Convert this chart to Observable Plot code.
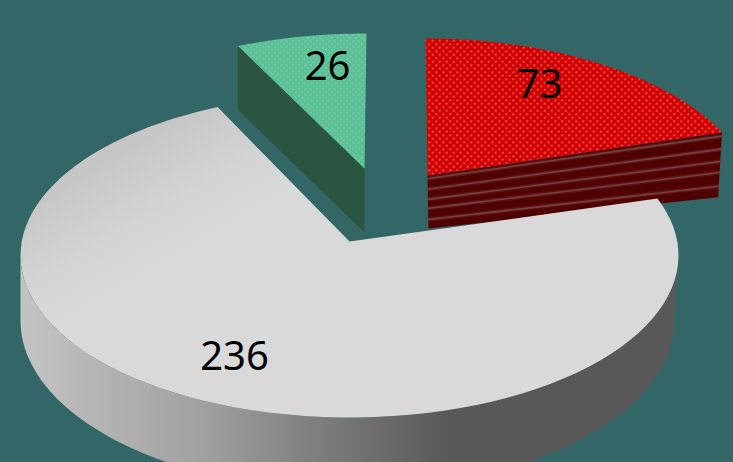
<!DOCTYPE html>
<html>
<head>
<meta charset="utf-8">
<script src="https://cdn.jsdelivr.net/npm/d3@7"></script>
<script src="https://cdn.jsdelivr.net/npm/@observablehq/plot@0.6"></script>
<style>
  html, body { margin: 0; padding: 0; background: #336666; }
</style>
</head>
<body>
<div id="chart"></div>
<script>
// Slice values, clockwise from twelve o'clock.
const categories = ["red", "grey", "green"];
const values = [73, 236, 26];

// Where each slice's top face sits on the page once exploded and tilted.
const faces = {
  red:   {apex: [427, 175], cx: 425, cy: 205, rx: 330, ry: 167, o: 0.255},
  grey:  {apex: [349, 241], cx: 349, cy: 255, rx: 329, ry: 162, o: 0.16},
  green: {apex: [364, 168], cx: 366, cy: 164, rx: 300, ry: 131, o: 0.097}
};
const greyFloor = {cx: 347, cy: 320, rx: 327, ry: 170, o: 0};
const labelAnchors = {red: [539, 85], grey: [234, 357], green: [327, 67]};
const redDepth = {left: [1, 53], right: [-4, 65]};
const redStripes = [0.06, 0.26, 0.45, 0.62, 0.83];
const greenDepth = 64;

const width = 733;
const height = 462;

const arcs = d3.pie().sort(null).value((_, i) => values[i])(categories);
const slice = Object.fromEntries(categories.map((c, i) => [c, arcs[i]]));

// A point on a rim, seen through a foreshortening that pulls the far side in.
function rim(angle, f) {
  const u = Math.sin(angle), v = Math.cos(angle);
  const b = f.o * v;
  const t = -b + Math.sqrt(b * b + 1 - f.o * f.o);
  return [f.cx + f.rx * u * t, f.cy - f.ry * (f.o + v * t)];
}

function rimPath(a0, a1, f) {
  const n = 96;
  return d3.range(n + 1).map((i) => rim(a0 + (a1 - a0) * i / n, f));
}

const polygon = (pts) => pts.map(([x, y]) => ({x, y}));

function topFace(name) {
  const f = faces[name], s = slice[name];
  return polygon([f.apex, ...rimPath(s.startAngle, s.endAngle, f)]);
}

// Outer wall of the large slice, across the front half of the disc.
const greyTopOpen = {...faces.grey, o: 0};
const greyWall = polygon([
  ...rimPath(Math.PI / 2, 3 * Math.PI / 2, greyTopOpen),
  ...rimPath(3 * Math.PI / 2, Math.PI / 2, greyFloor)
]);

// Cut wall of the red slice, with its banding running parallel to the edge.
const redRight = rim(slice.red.endAngle, faces.red);
const redApex = faces.red.apex;
const redApexLow = [redApex[0] + redDepth.left[0], redApex[1] + redDepth.left[1]];
const redRightLow = [redRight[0] + redDepth.right[0], redRight[1] + redDepth.right[1]];
const redWall = polygon([redApex, redRight, redRightLow, redApexLow]);
const stripeLines = redStripes.map((k) => polygon([
  [d3.interpolate(redApex[0], redApexLow[0])(k), d3.interpolate(redApex[1], redApexLow[1])(k)],
  [d3.interpolate(redRight[0], redRightLow[0])(k), d3.interpolate(redRight[1], redRightLow[1])(k)]
]));

// Cut wall of the green slice.
const greenLeft = rim(slice.green.startAngle, faces.green);
const greenApex = faces.green.apex;
const greenWall = polygon([
  greenLeft, greenApex,
  [greenApex[0], greenApex[1] + greenDepth],
  [greenLeft[0], greenLeft[1] + greenDepth]
]);

const labels = categories.map((c, i) => ({x: labelAnchors[c][0], y: labelAnchors[c][1], text: String(values[i])}));

// Gradients and dotted fills used by the faces.
const paintDefs = () => {
  const defs = d3.create("svg:defs");
  defs.html(`
    <linearGradient id="wallShade" gradientUnits="userSpaceOnUse" x1="20" y1="0" x2="680" y2="0">
      <stop offset="0" stop-color="#c4c4c4"/>
      <stop offset="0.12" stop-color="#b4b4b4"/>
      <stop offset="0.27" stop-color="#a2a2a2"/>
      <stop offset="0.42" stop-color="#848484"/>
      <stop offset="0.52" stop-color="#707070"/>
      <stop offset="0.65" stop-color="#585858"/>
      <stop offset="1" stop-color="#585858"/>
    </linearGradient>
    <linearGradient id="discShade" gradientUnits="userSpaceOnUse" x1="100" y1="162" x2="160" y2="266">
      <stop offset="0" stop-color="#c6c6c6"/>
      <stop offset="0.6" stop-color="#d4d4d4"/>
      <stop offset="1" stop-color="#d9d9d9"/>
    </linearGradient>
    <pattern id="redDots" patternUnits="userSpaceOnUse" width="7" height="7">
      <rect width="7" height="7" fill="#d20000"/>
      <circle cx="1.75" cy="1.75" r="1" fill="#ea7070"/>
      <circle cx="5.25" cy="5.25" r="1" fill="#ea7070"/>
    </pattern>
    <pattern id="greenDots" patternUnits="userSpaceOnUse" width="6" height="6">
      <rect width="6" height="6" fill="#5cc097"/>
      <circle cx="1.5" cy="1.5" r="0.8" fill="#84d4b3"/>
      <circle cx="4.5" cy="4.5" r="0.8" fill="#84d4b3"/>
    </pattern>`);
  return defs.node();
};

const area = (data, fill) => Plot.line(data, {x: "x", y: "y", fill, stroke: "none", curve: "linear"});

const plot = Plot.plot({
  width,
  height,
  margin: 0,
  style: {background: "#336666", display: "block"},
  x: {domain: [0, width], range: [0, width], axis: null},
  y: {domain: [0, height], range: [0, height], axis: null},
  marks: [
    paintDefs,
    area(redWall, "#500000"),
    // Each band fades softly into a thin pale line.
    ...stripeLines.map((d) => Plot.line(d, {x: "x", y: "y", stroke: "#8a3535", strokeWidth: 4.5, strokeOpacity: 0.3})),
    ...stripeLines.map((d) => Plot.line(d, {x: "x", y: "y", stroke: "#704a4a", strokeWidth: 1.6, strokeOpacity: 0.9})),
    area(topFace("red"), "url(#redDots)"),
    area(greenWall, "#2a5540"),
    area(topFace("green"), "url(#greenDots)"),
    area(greyWall, "url(#wallShade)"),
    area(topFace("grey"), "url(#discShade)"),
    Plot.text(labels, {
      x: "x",
      y: "y",
      text: "text",
      fill: "#000",
      fontSize: 40,
      fontFamily: "Noto Sans",
      textAnchor: "middle",
      lineAnchor: "middle"
    })
  ]
});

document.getElementById("chart").appendChild(plot);
</script>
</body>
</html>
